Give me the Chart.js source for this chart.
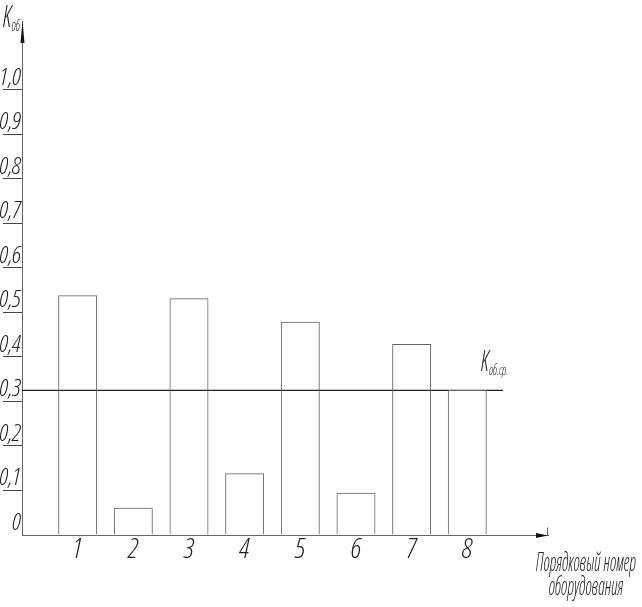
<!DOCTYPE html>
<html>
<head>
<meta charset="utf-8">
<script src="https://cdn.jsdelivr.net/npm/chart.js@4/dist/chart.umd.min.js"></script>
<style>
  html, body { margin: 0; padding: 0; background: #fff; }
  #wrap { position: relative; width: 642px; height: 607px; overflow: hidden; }
  canvas { display: block; }
  .lbl {
    position: absolute;
    font-family: "Open Sans", sans-serif;
    font-stretch: condensed;
    font-weight: 300;
    font-style: italic;
    color: #222;
    white-space: nowrap;
    line-height: 1;
    transform: scaleX(0.72);
    transform-origin: left top;
  }
  .lbl sub { font-size: 0.5em; vertical-align: -0.25em; }
  #x-title { left: 496px; top: 549px; width: 180px; font-size: 26px; text-align: center;
             line-height: 24px; transform: scaleX(0.64); transform-origin: center top; }
</style>
</head>
<body>
<div id="wrap">
  <canvas id="chart" width="642" height="607"></canvas>
  <div class="lbl" style="left:3px; top:-1px; font-size:32px;">K<sub>об</sub></div>
  <div class="lbl" style="left:481px; top:345px; font-size:30px;">K<sub>об.ср.</sub></div>
  <div class="lbl" id="x-title">Порядковый номер<br>оборудования</div>
</div>
<script>
const categories = ["1", "2", "3", "4", "5", "6", "7", "8"];
const coefficients = [0.539, 0.061, 0.532, 0.139, 0.479, 0.095, 0.429, 0.326];
const averageCoefficient = 0.325;
const averageLineSpan = [0, 8.64];
const yTickValues = [0, 0.1, 0.2, 0.3, 0.4, 0.5, 0.6, 0.7, 0.8, 0.9, 1.0];
const yTickLabels = ["0", "0,1", "0,2", "0,3", "0,4", "0,5", "0,6", "0,7", "0,8", "0,9", "1,0"];

const FONT = '"Open Sans", sans-serif';
const INK = "#222";
const LINE = "#666";

// arrow heads at the end of both axes
const axisArrows = {
  id: "axisArrows",
  afterDraw(chart) {
    const { ctx, chartArea } = chart;
    const x0 = chartArea.left + 0.5;
    const y0 = chartArea.bottom + 0.5;
    ctx.save();
    ctx.fillStyle = "#111";
    ctx.beginPath();
    ctx.moveTo(x0, chartArea.top);
    ctx.lineTo(x0 - 2, chartArea.top + 22);
    ctx.lineTo(x0 + 2, chartArea.top + 22);
    ctx.closePath();
    ctx.fill();
    ctx.beginPath();
    ctx.moveTo(chartArea.right, y0);
    ctx.lineTo(chartArea.right - 12, y0 - 2.5);
    ctx.lineTo(chartArea.right - 12, y0 + 2.5);
    ctx.closePath();
    ctx.fill();
    ctx.strokeStyle = LINE;
    ctx.lineWidth = 1;
    ctx.beginPath();
    ctx.moveTo(chartArea.right - 0.5, y0);
    ctx.lineTo(chartArea.right - 0.5, y0 - 8);
    ctx.stroke();
    ctx.restore();
  },
};

new Chart(document.getElementById("chart"), {
  type: "bar",
  data: {
    datasets: [
      {
        type: "bar",
        data: categories.map((c, i) => ({ x: i + 1, y: coefficients[i] })),
        backgroundColor: "rgba(255,255,255,0)",
        borderColor: LINE,
        borderWidth: 1,
        borderSkipped: "start",
        barPercentage: 0.7,
        categoryPercentage: 1,
      },
      {
        type: "line",
        data: averageLineSpan.map((x) => ({ x, y: averageCoefficient })),
        borderColor: INK,
        borderWidth: 1.2,
        pointRadius: 0,
        fill: false,
      },
    ],
  },
  options: {
    responsive: false,
    animation: false,
    layout: { padding: { top: 21, right: 94, left: 0, bottom: 0 } },
    plugins: { legend: { display: false }, tooltip: { enabled: false } },
    scales: {
      x: {
        type: "linear",
        offset: false,
        min: 0,
        max: 9.45,
        afterFit: (scale) => { scale.height = 72; },
        afterBuildTicks: (scale) => {
          scale.ticks = categories.map((c, i) => ({ value: i + 1 }));
        },
        grid: { drawOnChartArea: false, drawTicks: false },
        border: { display: true, color: LINE, width: 1 },
        ticks: {
          padding: 1,
          color: INK,
          font: { family: FONT, size: 28, style: "italic", weight: "300 condensed", lineHeight: 1 },
          callback: (value) => categories[value - 1],
        },
      },
      y: {
        min: 0,
        max: 1.155,
        afterFit: (scale) => { scale.width = 22; },
        afterBuildTicks: (scale) => {
          scale.ticks = yTickValues.map((v) => ({ value: v }));
        },
        grid: {
          drawOnChartArea: false,
          drawTicks: true,
          tickLength: 19,
          color: (ctx) => (ctx.tick && ctx.tick.value === 0 ? "rgba(0,0,0,0)" : "#444"),
        },
        border: { display: true, color: LINE, width: 1 },
        ticks: {
          padding: -18,
          labelOffset: -12,
          color: INK,
          font: { family: FONT, size: 24, style: "italic", weight: "300 condensed", lineHeight: 1 },
          callback: (value) => yTickLabels[yTickValues.indexOf(value)],
        },
      },
    },
  },
  plugins: [axisArrows],
});
</script>
</body>
</html>
